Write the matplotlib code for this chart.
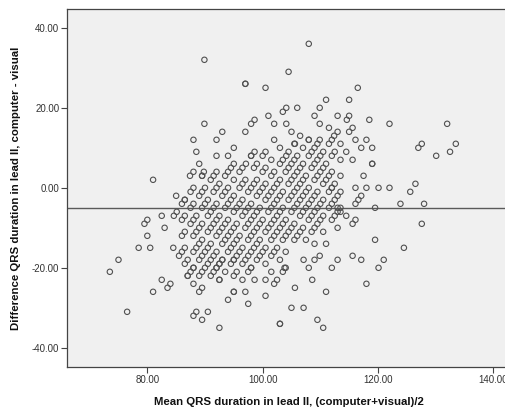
import matplotlib
matplotlib.use("Agg")
import matplotlib.pyplot as plt

# ---- data -------------------------------------------------------------
# dense core: for each visual QRS value (ms), the recorded differences
# (computer - visual, ms).  mean = visual + diff/2 (Bland-Altman definition)
core_visual = [88, 90, 92, 94, 96, 98, 100, 102, 104, 106, 108, 110, 112, 114, 116]
core_diffs = [
    [-4, -3, -1, 0, 3],
    [-8, -7, -5, -4, -2, -1, 0, 2],
    [-12, -11, -9, -8, -7, -5, -4, -3, -1, 0, 1, 3, 6],
    [-16, -15, -12, -11, -10, -9, -7, -6, -5, -4, -2, -1, 0, 2, 4, 5, 8],
    [-19, -18, -16, -15, -14, -13, -11, -10, -9, -8, -7, -5, -4, -3, -2, 0, 1, 2, 5, 6, 9],
    [-21, -20, -18, -17, -16, -15, -14, -12, -11, -10, -9, -8, -6, -5, -4, -3, -1, 0, 1, 2, 4, 5, 7, 10],
    [-22, -21, -19, -18, -17, -16, -14, -13, -12, -11, -10, -9, -7, -6, -5, -4, -2, -1, 0, 1, 3, 4, 6, 7, 9, 11],
    [-22, -20, -19, -18, -16, -15, -14, -13, -12, -10, -9, -8, -7, -6, -5, -3, -2, -1, 0, 1, 2, 4, 5, 6, 7, 8, 10, 12],
    [-21, -19, -18, -17, -16, -15, -13, -12, -11, -10, -9, -8, -6, -5, -4, -3, -2, -1, 1, 2, 3, 4, 5, 6, 8, 9, 10, 11],
    [-21, -19, -17, -16, -15, -14, -13, -11, -10, -9, -8, -7, -6, -5, -3, -2, -1, 0, 1, 2, 3, 5, 6, 7, 8, 9, 11, 12],
    [-20, -17, -16, -15, -13, -12, -11, -10, -9, -8, -6, -5, -4, -3, -2, -1, 0, 2, 3, 4, 5, 6, 8, 9, 11],
    [-19, -16, -15, -13, -12, -11, -10, -9, -7, -6, -5, -4, -3, -2, -1, 1, 2, 3, 4, 7],
    [-16, -13, -12, -11, -10, -8, -7, -6, -5, -4, -3, -1, 0, 1, 3],
    [-13, -11, -10, -9, -8, -7, -5, -4, -3, -1],
    [-11, -8, -7, -6, -5],
]

# scattered points outside the core: mean (x) and difference (y)
outer_mean = [
    89.9, 108.0, 104.5, 97.0, 97.0, 100.5, 116.5, 111.0, 115.0, 104.1, 103.5, 106.0, 109.9,
    101.0, 109.0, 113.0, 115.0, 114.6, 118.5, 98.6, 98.0, 89.9, 102.0, 104.1, 109.9, 122.0,
    132.0, 93.0, 97.0, 105.0, 111.5, 113.0, 115.6, 115.0, 106.5, 112.4, 88.0, 92.0, 102.0,
    108.0, 109.9, 116.1, 118.0,
    73.5, 75.0, 76.5, 81.0, 82.5, 83.5, 84.0, 87.0, 87.0, 88.0, 88.0, 89.0, 89.5, 90.0, 88.0,
    88.5, 89.5, 90.5, 91.5, 92.0, 92.5, 93.0, 92.5, 92.5, 92.5, 94.0, 95.0, 95.0, 95.0, 95.0,
    96.5, 97.0, 97.5, 98.0, 97.0, 97.5, 98.6, 99.0, 100.5, 100.5, 101.5, 102.0, 102.5, 103.0,
    103.0, 103.0, 103.5, 104.0, 105.0, 105.6, 107.1, 107.1, 108.0, 108.6, 109.0, 109.5, 110.5,
    111.0, 112.0, 113.0, 117.1, 118.0, 120.1, 121.0,
    127.0, 127.6, 130.1, 132.5, 133.5, 126.5, 125.6, 123.9, 128.0, 127.6, 124.5, 122.0, 120.1,
    118.0, 116.1, 119.5, 119.5, 119.0, 119.0, 119.0, 117.5, 115.6, 114.5, 117.1, 117.1, 116.6,
    116.1, 114.5, 116.1, 115.6, 115.6, 112.0, 113.0, 113.0, 113.5, 113.0, 111.0, 109.0, 109.9,
    103.8, 101.5, 80.0, 78.5, 80.5, 79.5, 80.0, 82.5, 83.0, 81.0, 85.0, 86.5, 84.6, 85.1, 84.5,
    85.5, 87.4, 88.0, 89.0, 88.5, 89.8, 89.5, 92.0, 91.5, 92.0, 94.0, 95.0, 94.5, 94.0, 97.1,
    98.6, 98.0, 100.0, 104.1, 105.6,
]
outer_diff = [
    32, 36, 29, 26, 26, 25, 25, 22, 22, 20, 19, 20, 20,
    18, 18, 18, 18, 17, 17, 17, 16, 16, 16, 16, 16, 16,
    16, 14, 14, 14, 15, 14, 15, 14, 13, 13, 12, 12, 12,
    12, 12, 12, 12,
    -21, -18, -31, -26, -23, -25, -24, -22, -22, -24, -20, -26, -25, -20, -32,
    -31, -33, -31, -21, -20, -19, -18, -23, -23, -35, -28, -26, -26, -22, -18,
    -23, -26, -21, -20, -18, -29, -23, -18, -27, -23, -21, -24, -23, -18,
    -34, -34, -21, -20, -30, -25, -30, -18, -20, -23, -18, -33, -35,
    -26, -20, -18, -18, -24, -20, -18,
    10, 11, 8, 9, 11, 1, -1, -4, -4, -9, -15, 0, 0,
    0, 0, -5, -13, 6, 6, 10, 3, 7, 9, 10, -2, -3,
    -4, -7, -8, -9, -17, 0, -2, -5, -6, -10, -14, -14, -17,
    -20, -17, -12, -15, -15, -9, -8, -7, -10, 2, -2, -3, -7, -6, -15,
    -17, 3, 4, 6, 9, 4, 3, 4, 3, 8, 8, 10, 5, 4, 6,
    9, 8, 8, 8, 11,
]

mean_difference = -5.0

x_ticks = [80, 100, 120, 140]
y_ticks = [-40, -20, 0, 20, 40]
x_label = "Mean QRS duration in lead II, (computer+visual)/2"
y_label = "Difference QRS duration in lead II, computer - visual"

# ---- build point table ------------------------------------------------
mean_vals, diff_vals = [], []
for v, ds in zip(core_visual, core_diffs):
    for d in ds:
        mean_vals.append(v + d / 2.0)
        diff_vals.append(d)
mean_vals += outer_mean
diff_vals += outer_diff

# ---- plot ---------------------------------------------------------------
plt.rcParams['font.family'] = ['Liberation Sans', 'DejaVu Sans']
W, H = 505, 408
fig = plt.figure(figsize=(W / 100, H / 100), dpi=100)
fig.patch.set_facecolor('white')

left_px, right_px, top_px, bottom_px = 67, 510, 9, 367
ax = fig.add_axes([left_px / W, 1 - bottom_px / H,
                   (right_px - left_px) / W, (bottom_px - top_px) / H])
ax.set_facecolor('#f0f0f0')

ax.scatter(mean_vals, diff_vals, s=15, facecolors='none',
           edgecolors='#505050', linewidths=0.8, zorder=3)
ax.axhline(mean_difference, color='#5a5a5a', lw=1.0, zorder=2)

ax.set_xlim(66.07, 142.9)
ax.set_ylim(-44.8, 44.7)
ax.set_xticks(x_ticks)
ax.set_xticklabels([f"{t:.2f}" for t in x_ticks])
ax.set_yticks(y_ticks)
ax.set_yticklabels([f"{t:.2f}" for t in y_ticks])
ax.tick_params(direction='out', length=4, width=0.8, colors='#444444',
               labelsize=7, labelcolor='#333333', pad=1.5)

for s in ['left', 'bottom', 'top']:
    ax.spines[s].set_color('#444444')
    ax.spines[s].set_linewidth(0.9)
ax.spines['right'].set_visible(False)

ax.set_xlabel(x_label, fontsize=8.2, fontweight='bold', color='#111111', labelpad=9)
ax.set_ylabel(y_label, fontsize=8.2, fontweight='bold', color='#111111', labelpad=8)

fig.savefig('out.png', dpi=100, facecolor='white')
